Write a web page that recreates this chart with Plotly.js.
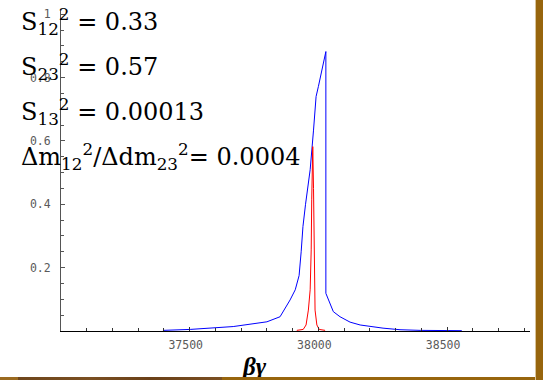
<!DOCTYPE html>
<html>
<head>
<meta charset="utf-8">
<script src="https://cdn.plot.ly/plotly-3.0.1.min.js"></script>
<style>
  html, body { margin: 0; padding: 0; width: 543px; height: 380px; overflow: hidden; background: #fff; }
  #frame { position: absolute; left: 0; top: 0; width: 543px; height: 380px; }
  #chart { position: absolute; left: 0; top: 0; width: 543px; height: 380px; background: #fff; }
  #right { position: absolute; left: 535px; top: 0; width: 8px; height: 380px; background: #97650d; border-left: 1px solid #d9c49a; box-sizing: border-box; z-index: 5; }
  #bottom { position: absolute; left: 0; top: 377px; width: 543px; height: 3px; z-index: 4;
    background: linear-gradient(to right, #9a6a20 0px, #9a6a20 18px, #6e461c 18px, #7a4f22 90px, #6a4018 150px, #7a4f22 222px, #97650d 222px, #97650d 543px); }
</style>
</head>
<body>
<div id="frame">
  <div id="chart"></div>
  <div id="right"></div>
  <div id="bottom"></div>
</div>
<script>
// ---- data ----
const blueX = [37396, 37502, 37669, 37800, 37851, 37863, 37890, 37910, 37925, 37933, 37940, 37950, 37968, 37981, 37991, 38000, 38010, 38029, 38029, 38039, 38045, 38058, 38084, 38097, 38123, 38162, 38251, 38317, 38395, 38557];
const blueY = [0.002, 0.005, 0.014, 0.029, 0.045, 0.061, 0.098, 0.13, 0.175, 0.25, 0.33, 0.40, 0.509, 0.634, 0.74, 0.772, 0.814, 0.882, 0.119, 0.098, 0.087, 0.061, 0.045, 0.040, 0.028, 0.019, 0.009, 0.004, 0.002, 0.001];

const redX = [37916, 37941, 37952, 37961, 37968, 37972, 37974, 37978, 37981, 37983, 37987, 37994, 38003, 38026];
const redY = [0.002, 0.005, 0.019, 0.066, 0.13, 0.256, 0.414, 0.582, 0.45, 0.256, 0.066, 0.019, 0.005, 0.002];

const xTickVals = [37500, 38000, 38500];
const xTickText = ["37500", "38000", "38500"];
const yTickVals = [0.2, 0.4, 0.6, 0.8, 1];
const yTickText = ["0.2", "0.4", "0.6", "0.8", "1"];

const labelLines = [
  "S<sub>12</sub><sup>2</sup> = 0.33",
  "S<sub>23</sub><sup>2</sup> = 0.57",
  "S<sub>13</sub><sup>2</sup> = 0.00013",
  "\u0394m<sub>12</sub><sup>2</sup>/\u0394dm<sub>23</sub><sup>2</sup>= 0.0004"
];
const axisLabel = "\u03b2\u03b3";

// ---- layout geometry (pixels) ----
const W = 543, H = 380;
const M = { l: 61, r: 13, t: 11, b: 49 };
const PW = W - M.l - M.r, PH = H - M.t - M.b;
const px2x = p => (p - M.l) / PW;
const px2y = p => (H - M.b - p) / PH;

const serif = 'DejaVu Serif';
const lineCenters = [21, 66, 111, 156];
const annotations = labelLines.map((t, i) => ({
  xref: 'paper', yref: 'paper',
  x: px2x(19), y: px2y(lineCenters[i]),
  xanchor: 'left', yanchor: 'middle',
  text: t, showarrow: false,
  font: { family: serif, size: 24, color: '#000' }
}));
annotations.push({
  xref: 'paper', yref: 'paper',
  x: px2x(254), y: px2y(366),
  xanchor: 'center', yanchor: 'middle',
  text: '<b><i>' + axisLabel + '</i></b>', showarrow: false,
  font: { family: 'Liberation Serif', size: 25, color: '#000' }
});

const traces = [
  { x: blueX, y: blueY, type: 'scatter', mode: 'lines', line: { color: '#0000ff', width: 1 }, hoverinfo: 'skip' },
  { x: redX, y: redY, type: 'scatter', mode: 'lines', line: { color: '#ff0000', width: 1 }, hoverinfo: 'skip' }
];

const tickFont = { family: 'DejaVu Sans Mono', size: 11.5, color: '#5a5a5a' };

const layout = {
  width: W, height: H,
  margin: M,
  paper_bgcolor: '#ffffff', plot_bgcolor: '#ffffff',
  showlegend: false,
  xaxis: {
    range: [37000, 38822],
    tickmode: 'array', tickvals: xTickVals, ticktext: xTickText,
    ticks: 'inside', ticklen: 4, tickcolor: '#333', tickwidth: 1,
    minor: { tickmode: 'linear', tick0: 37000, dtick: 100, ticks: 'inside', ticklen: 3, tickcolor: '#333', showgrid: false },
    showline: true, linecolor: '#000', linewidth: 1,
    showgrid: false, zeroline: false,
    tickfont: tickFont, ticklabelstandoff: 3, ticklabelshift: -4
  },
  yaxis: {
    range: [0, 1.01],
    tickmode: 'array', tickvals: yTickVals, ticktext: yTickText,
    ticks: 'inside', ticklen: 4, tickcolor: '#555', tickwidth: 1,
    minor: { tickmode: 'linear', tick0: 0, dtick: 0.05, ticks: 'inside', ticklen: 3, tickcolor: '#555', showgrid: false },
    showline: true, linecolor: '#555', linewidth: 1,
    showgrid: false, zeroline: false,
    tickfont: tickFont, ticklabelstandoff: 7
  },
  annotations: annotations
};

Plotly.newPlot('chart', traces, layout, { staticPlot: true, displayModeBar: false });
</script>
</body>
</html>
